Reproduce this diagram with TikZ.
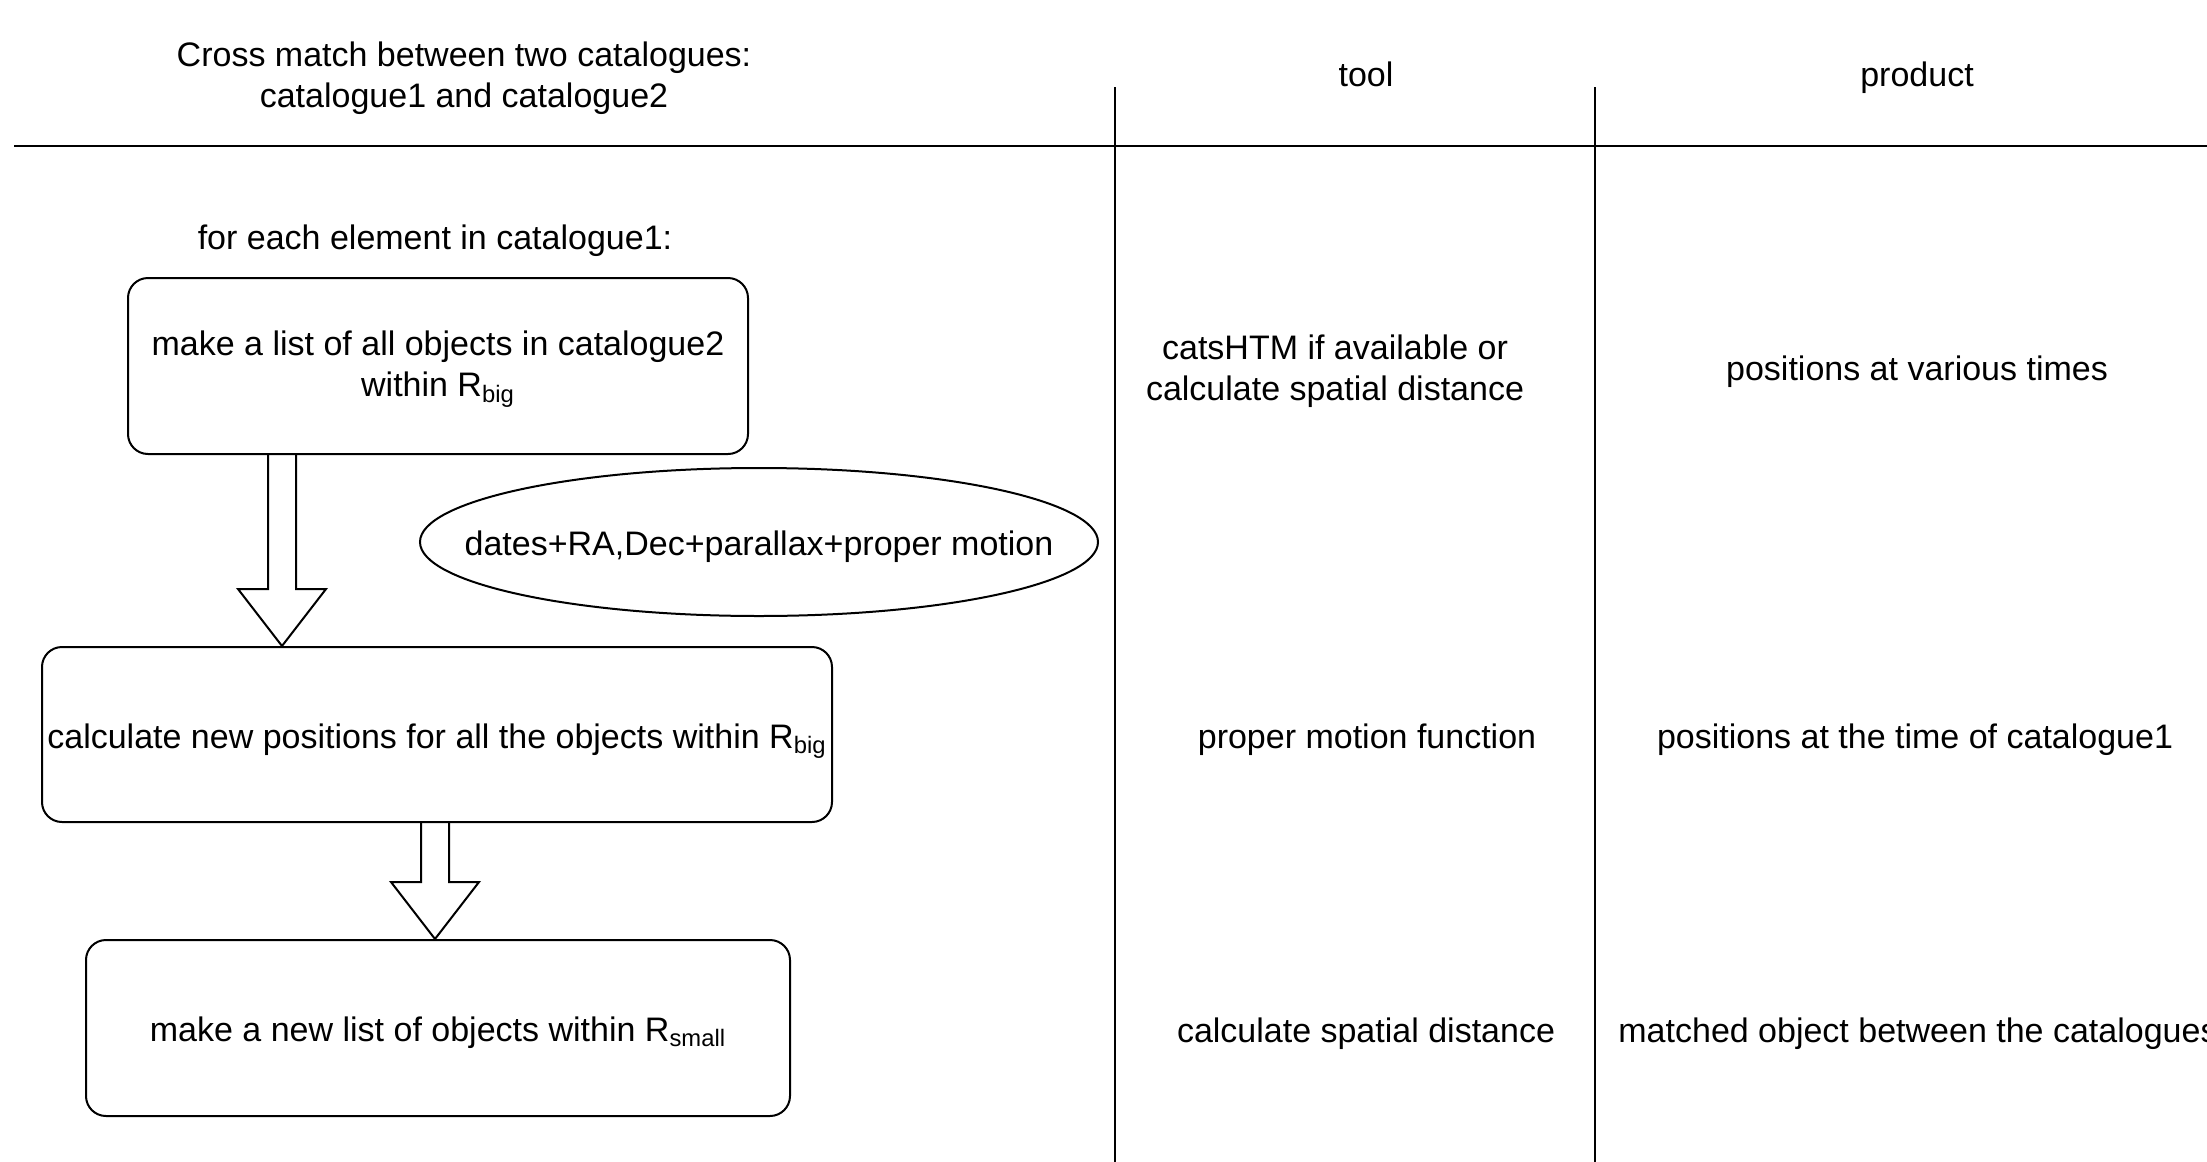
\documentclass[tikz,border=0pt]{standalone}
\usepackage{fontspec}
\setmainfont{Liberation Sans}
\usetikzlibrary{calc}

\tikzset{
  every node/.style={font=\fontsize{17}{20.5}\selectfont, inner sep=0pt},
  oneline/.style={text height=14pt, text depth=1.8pt},
  lowline/.style={text height=14.7pt, text depth=1.1pt},
  twoline/.style={align=center},
  stepbox/.style={draw, line width=1pt, rounded corners=10pt, align=center, inner sep=2pt},
  inputoval/.style={draw, line width=1pt},
  tablerule/.style={line width=1pt},
  headrule/.style={line width=1.3pt},
  blockarr/.style={draw, line width=1pt, line join=miter},
}

% hollow block arrow from #1 (top of shaft) down to #2 (tip)
\newcommand\blockarrow[2]{%
  \draw[blockarr] let \p1=(#1), \p2=(#2) in
    (\x1-7pt,\y1) -- (\x1-7pt,\y2+28.5pt) -- (\x1-22pt,\y2+28.5pt) -- (\x1,\y2)
    -- (\x1+22pt,\y2+28.5pt) -- (\x1+7pt,\y2+28.5pt) -- (\x1+7pt,\y1);}

\begin{document}
\begin{tikzpicture}[x=0.5pt,y=-0.5pt]
\useasboundingbox (0,0) rectangle (2207,1162);

% table rules
\coordinate (hl) at (14,146);
\coordinate (hr) at (2207,146);
\coordinate (v1t) at (1115,87);
\coordinate (v1b) at (1115,1162);
\coordinate (v2t) at (1595,87);
\coordinate (v2b) at (1595,1162);
\draw[headrule] (hl) -- (hr);
\draw[tablerule] (v1t) -- (v1b);
\draw[tablerule] (v2t) -- (v2b);

% column headings
\node[twoline] (title) at (464,78.5) {Cross match between two catalogues:\\catalogue1 and catalogue2};
\node[oneline] (tool) at (1366,74) {tool};
\node[oneline] (product) at (1917,74) {product};

% procedure
\node[oneline] (loop) at (435,237) {for each element in catalogue1:};
\node[stepbox, text depth=2pt, minimum width=310pt, minimum height=88pt] (b1) at (438,366)
  {make a list of all objects in catalogue2\\within R\textsubscript{big}};
\node[lowline] (inp) at (759,542) {dates+RA,Dec+parallax+proper motion};
\draw[inputoval] (inp.center) ellipse [x radius=339, y radius=74];
\node[stepbox, lowline, minimum width=395pt, minimum height=87.5pt] (b2) at (437,734.5)
  {calculate new positions for all the objects within R\textsubscript{big}};
\node[stepbox, lowline, minimum width=352pt, minimum height=88pt] (b3) at (438,1028)
  {make a new list of objects within R\textsubscript{small}};

% tools and products
\node[twoline] (t1) at (1335,371.5) {catsHTM if available or\\calculate spatial distance};
\node[oneline] (p1) at (1917,368) {positions at various times};
\node[oneline] (t2) at (1367,736) {proper motion function};
\node[oneline] (p2) at (1915,736) {positions at the time of catalogue1};
\node[oneline] (t3) at (1366,1030) {calculate spatial distance};
\node[oneline] (p3) at (1918,1030) {matched object between the catalogues};

% block arrows between the steps
\coordinate (a1s) at ($(b1.south west)+(155,0)$);
\coordinate (a1e) at (a1s |- b2.north);
\blockarrow{a1s}{a1e}
\coordinate (a2s) at ($(b2.south west)+(394,0)$);
\coordinate (a2e) at (a2s |- b3.north);
\blockarrow{a2s}{a2e}
\end{tikzpicture}
\end{document}
